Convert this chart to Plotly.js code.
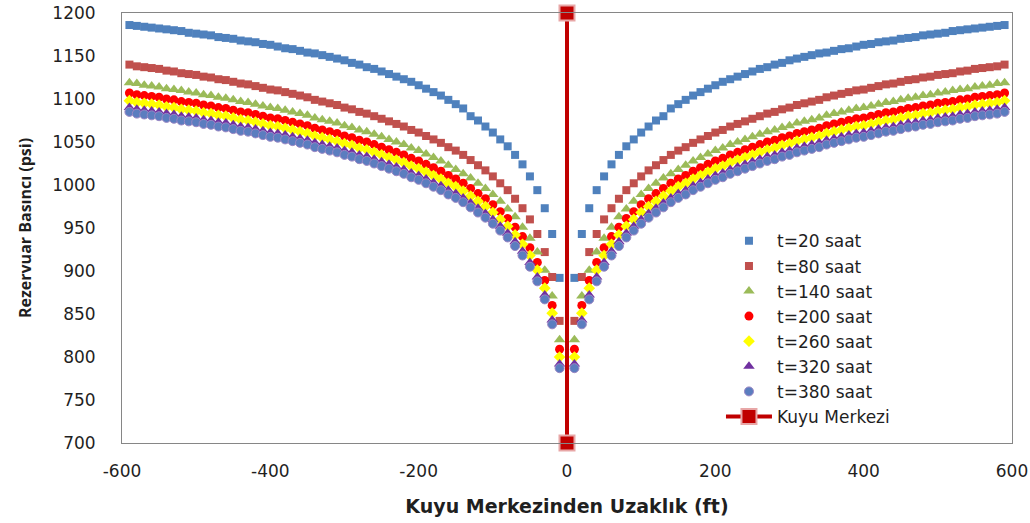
<!DOCTYPE html>
<html>
<head>
<meta charset="utf-8">
<script src="https://cdn.plot.ly/plotly-3.0.1.min.js"></script>
<style>
  html, body { margin: 0; padding: 0; background: #ffffff; }
  #chart { width: 1030px; height: 523px; }
</style>
</head>
<body>
<div id="chart"></div>
<script>
// Radial distance from the well (ft), one side of the profile
const distanceFt = [10, 20, 30, 40, 50, 60, 70, 80, 90, 100,
  110, 120, 130, 140, 150, 160, 170, 180, 190, 200,
  210, 220, 230, 240, 250, 260, 270, 280, 290, 300,
  310, 320, 330, 340, 350, 360, 370, 380, 390, 400,
  410, 420, 430, 440, 450, 460, 470, 480, 490, 500,
  510, 520, 530, 540, 550, 560, 570, 580, 590];

// Reservoir pressure (psi) at each distance, per elapsed time
const p20 = [892, 943, 973, 994, 1010, 1024, 1035, 1045, 1053, 1061,
  1068, 1075, 1080, 1089, 1094, 1099, 1104, 1108, 1112, 1116,
  1120, 1123, 1126, 1129, 1132, 1135, 1137, 1140, 1142, 1145,
  1147, 1149, 1151, 1153, 1154, 1156, 1158, 1159, 1161, 1163,
  1164, 1166, 1167, 1168, 1170, 1171, 1172, 1174, 1175, 1176,
  1177, 1179, 1180, 1181, 1182, 1183, 1184, 1185, 1186];
const p80 = [842, 893, 922, 943, 960, 973, 984, 994, 1002, 1010,
  1017, 1023, 1029, 1035, 1040, 1044, 1049, 1053, 1057, 1061,
  1064, 1068, 1071, 1074, 1077, 1080, 1083, 1085, 1088, 1090,
  1093, 1095, 1097, 1099, 1102, 1104, 1106, 1108, 1110, 1111,
  1113, 1115, 1117, 1118, 1120, 1122, 1123, 1125, 1126, 1128,
  1129, 1130, 1132, 1133, 1135, 1136, 1137, 1138, 1140];
const p140 = [820, 871, 901, 922, 938, 951, 963, 972, 981, 989,
  996, 1002, 1008, 1013, 1018, 1023, 1028, 1032, 1036, 1040,
  1043, 1047, 1050, 1053, 1056, 1059, 1062, 1064, 1067, 1069,
  1072, 1074, 1076, 1078, 1081, 1083, 1085, 1087, 1089, 1090,
  1092, 1094, 1096, 1097, 1099, 1101, 1102, 1104, 1105, 1107,
  1108, 1110, 1111, 1112, 1114, 1115, 1116, 1118, 1119];
const p200 = [809, 860, 889, 910, 927, 940, 951, 961, 969, 977,
  984, 990, 996, 1002, 1007, 1011, 1016, 1020, 1024, 1028,
  1031, 1035, 1038, 1041, 1044, 1047, 1050, 1052, 1055, 1057,
  1060, 1062, 1064, 1066, 1069, 1071, 1073, 1075, 1077, 1078,
  1080, 1082, 1084, 1085, 1087, 1089, 1090, 1092, 1093, 1095,
  1096, 1097, 1099, 1100, 1102, 1103, 1104, 1105, 1107];
const p260 = [800, 851, 880, 901, 918, 931, 942, 952, 960, 968,
  975, 981, 987, 993, 998, 1002, 1007, 1011, 1015, 1019,
  1022, 1026, 1029, 1032, 1035, 1038, 1041, 1043, 1046, 1048,
  1051, 1053, 1055, 1057, 1060, 1062, 1064, 1066, 1068, 1069,
  1071, 1073, 1075, 1076, 1078, 1080, 1081, 1083, 1084, 1086,
  1087, 1088, 1090, 1091, 1093, 1094, 1095, 1096, 1098];
const p320 = [792, 843, 872, 893, 910, 923, 934, 944, 952, 960,
  967, 973, 979, 985, 990, 994, 999, 1003, 1007, 1011,
  1014, 1018, 1021, 1024, 1027, 1030, 1033, 1035, 1038, 1040,
  1043, 1045, 1047, 1049, 1052, 1054, 1056, 1058, 1060, 1061,
  1063, 1065, 1067, 1068, 1070, 1072, 1073, 1075, 1076, 1078,
  1079, 1080, 1082, 1083, 1085, 1086, 1087, 1088, 1090];
const p380 = [787, 838, 867, 888, 905, 918, 929, 939, 947, 955,
  962, 968, 974, 980, 985, 989, 994, 998, 1002, 1006,
  1009, 1013, 1016, 1019, 1022, 1025, 1028, 1030, 1033, 1035,
  1038, 1040, 1042, 1044, 1047, 1049, 1051, 1053, 1055, 1056,
  1058, 1060, 1062, 1063, 1065, 1067, 1068, 1070, 1071, 1073,
  1074, 1075, 1077, 1078, 1080, 1081, 1082, 1083, 1085];

const seriesNames = ['t=20 saat', 't=80 saat', 't=140 saat', 't=200 saat',
  't=260 saat', 't=320 saat', 't=380 saat'];

// Well centre marker line
const wellName = 'Kuyu Merkezi';
const wellX = [0, 0];
const wellY = [700, 1200];

const xTickVals = [-600, -400, -200, 0, 200, 400, 600];
const yTickVals = [700, 750, 800, 850, 900, 950, 1000, 1050, 1100, 1150, 1200];

// Profile is symmetric about the well: mirror one side to the other
function mirrorX(r) {
  return r.slice().reverse().map(v => -v).concat(r);
}
function mirrorY(p) {
  return p.slice().reverse().concat(p);
}

const styles = [
  { symbol: 'square', color: '#4F81BD', size: 8 },
  { symbol: 'square', color: '#C0504D', size: 8 },
  { symbol: 'triangle-up', color: '#9BBB59', size: 10 },
  { symbol: 'circle', color: '#FF0000', size: 9 },
  { symbol: 'diamond', color: '#FFFF00', size: 9 },
  { symbol: 'triangle-up', color: '#7030A0', size: 10 },
  { symbol: 'circle', color: '#5B7DBF', size: 9 }
];

const pressureSets = [p20, p80, p140, p200, p260, p320, p380];
const xs = mirrorX(distanceFt);

const traces = pressureSets.map((p, i) => ({
  type: 'scatter',
  mode: 'markers',
  name: seriesNames[i],
  x: xs,
  y: mirrorY(p),
  marker: {
    symbol: styles[i].symbol,
    color: styles[i].color,
    size: styles[i].size,
    line: { width: i === 6 ? 1 : 0, color: '#9A86C4' }
  },
  hoverinfo: 'x+y+name'
}));

traces.push({
  type: 'scatter',
  mode: 'lines+markers',
  name: wellName,
  x: wellX,
  y: wellY,
  line: { color: '#C00000', width: 4 },
  marker: { symbol: 'square', size: 15, color: '#C00000', line: { color: '#E8A7A7', width: 2 } },
  cliponaxis: false
});

const wideFont = 'DejaVu Sans, Verdana, sans-serif';
const textColor = '#1f1f1f';

const layout = {
  width: 1030,
  height: 523,
  margin: { l: 122, r: 18, t: 13, b: 80 },
  paper_bgcolor: '#ffffff',
  plot_bgcolor: '#ffffff',
  font: { family: wideFont, size: 17, color: textColor },
  showlegend: true,
  legend: {
    x: 0.673, y: 0.511, xanchor: 'left', yanchor: 'top',
    bgcolor: 'rgba(0,0,0,0)',
    font: { family: wideFont, size: 17, color: textColor },
    tracegroupgap: 0,
    itemwidth: 46,
    itemsizing: 'trace'
  },
  xaxis: {
    range: [-600, 600],
    tickvals: xTickVals,
    ticktext: xTickVals.map(String),
    showgrid: false,
    zeroline: false,
    showline: true,
    linecolor: '#868686',
    linewidth: 1,
    mirror: true,
    ticks: '',
    ticklabelstandoff: 13,
    tickfont: { family: wideFont, size: 17, color: textColor },
    title: {
      text: 'Kuyu Merkezinden Uzaklık (ft)',
      font: { family: wideFont, size: 19, color: textColor, weight: 'bold' },
      standoff: 19
    }
  },
  yaxis: {
    range: [700, 1200],
    tickvals: yTickVals,
    ticktext: yTickVals.map(String),
    showgrid: false,
    zeroline: false,
    showline: true,
    linecolor: '#868686',
    linewidth: 1,
    mirror: true,
    ticks: '',
    ticklabelstandoff: 22,
    tickfont: { family: wideFont, size: 17, color: textColor },
    title: {
      text: 'Rezervuar Basıncı (psi)',
      font: { family: 'Open Sans, sans-serif', size: 16, color: textColor, weight: 'bold' },
      standoff: 16
    }
  }
};

Plotly.newPlot('chart', traces, layout, { displayModeBar: false, staticPlot: true });
</script>
</body>
</html>
